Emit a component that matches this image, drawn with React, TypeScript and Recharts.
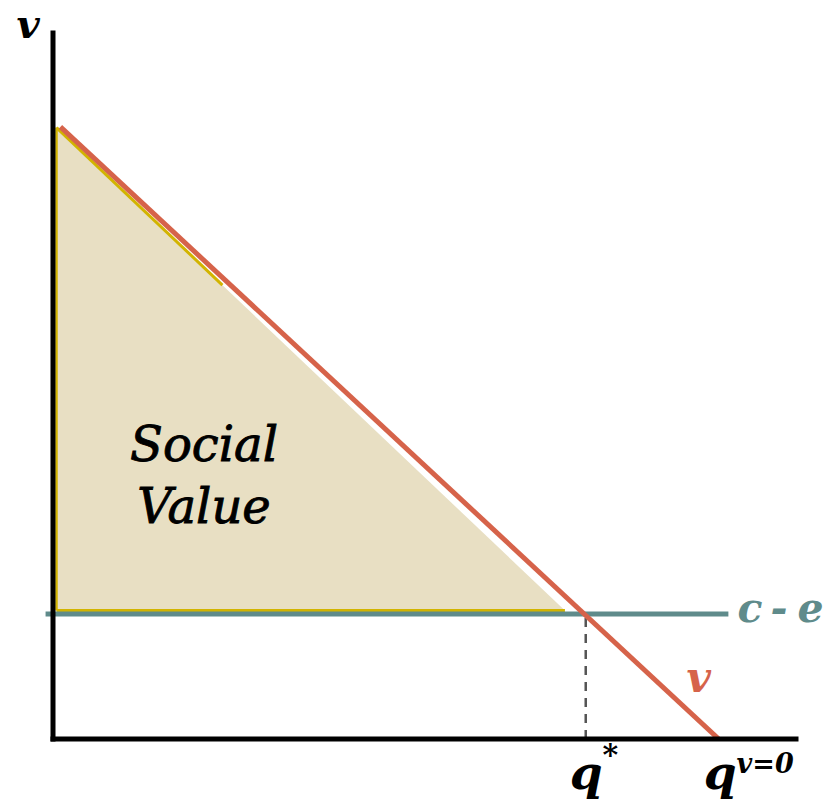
import React from "react";
import {
  ComposedChart,
  Line,
  Area,
  XAxis,
  YAxis,
  ReferenceLine,
  ReferenceDot,
} from "recharts";

// axis ranges (quantity q, value v)
const qDomain = [0, 100];
const vDomain = [0, 100];

// demand / value curve v(q)
const demandQ = [1.0, 89.6];
const demandV = [86.7, 0];

// c - e level and its extent
const costLevel = 17.7;
const costQ = [-1.0, 90.9];

// q* where v = c - e
const qStar = 71.7;
const qZero = 89.6;

// social value triangle
const triQ = [0.47, 68.9];
const triTop = [86.6, 18.2];
const triBase = 18.2;
const triEdgeQ = 22.8; // highlighted part of hypotenuse
const triEdgeV = 64.3;

const demandData = demandQ.map((q, i) => ({ q, v: demandV[i] }));
const triData = triQ.map((q, i) => ({ q, band: [triBase, triTop[i]] }));

const RED = "#d6634a";
const TEAL = "#5f8b8b";
const GOLD = "#d2b400";
const FILL = "#e8dfc3";
const serif = "'DejaVu Serif', serif";

const txt = (
  content: React.ReactNode,
  dx: number,
  dy: number,
  size: number,
  color: string,
  anchor = "start",
  weight = "bold",
  extra: any = {}
) =>
  (props: any) => {
    const vb = props.viewBox || {};
    return (
      <text
        x={vb.x + dx}
        y={vb.y + dy}
        fontFamily={serif}
        fontStyle="italic"
        fontWeight={weight}
        fontSize={size}
        fill={color}
        textAnchor={anchor}
        {...extra}
      >
        {content}
      </text>
    );
  };

// "c - e" with tight spacing, pieces placed one by one
const costLabel = (props: any) => {
  const vb = props.viewBox || {};
  const x0 = vb.x + 9;
  const y0 = vb.y + 8;
  const common = {
    fontFamily: serif,
    fontStyle: "italic",
    fontWeight: "bold",
    fontSize: 41,
    fill: TEAL,
  };
  return (
    <g>
      <text x={x0} y={y0} {...common}>c</text>
      <text x={x0 + 33} y={y0} {...common}>-</text>
      <text x={x0 + 60} y={y0} {...common}>e</text>
    </g>
  );
};

const axisLine = { stroke: "#000", strokeWidth: 5, strokeLinecap: "square" };

export default function App() {
  return (
    <div style={{ position: "absolute", left: 0, top: 0, width: 826, height: 803, background: "#fff" }}>
      <ComposedChart
        width={826}
        height={803}
        margin={{ top: 33, right: 30, left: 52, bottom: 63 }}
        style={{ overflow: "visible" }}
      >
        <XAxis
          type="number"
          dataKey="q"
          domain={qDomain}
          height={1}
          tick={false}
          tickLine={false}
          axisLine={axisLine}
          allowDataOverflow
        />
        <YAxis
          type="number"
          domain={vDomain}
          width={1}
          tick={false}
          tickLine={false}
          axisLine={axisLine}
          allowDataOverflow
        />
        <Area
          data={triData}
          dataKey="band"
          type="linear"
          fill={FILL}
          fillOpacity={1}
          stroke="none"
          isAnimationActive={false}
        />
        <ReferenceLine
          segment={[{ x: triQ[0], y: triTop[0] }, { x: triQ[0], y: triBase }]}
          stroke={GOLD}
          strokeWidth={2.5}
          ifOverflow="visible"
        />
        <ReferenceLine
          segment={[{ x: triQ[0], y: triBase }, { x: triQ[1], y: triBase }]}
          stroke={GOLD}
          strokeWidth={3}
          ifOverflow="visible"
        />
        <ReferenceLine
          segment={[{ x: triQ[0], y: triTop[0] }, { x: triEdgeQ, y: triEdgeV }]}
          stroke={GOLD}
          strokeWidth={3}
          ifOverflow="visible"
        />
        <ReferenceLine
          segment={[{ x: qStar, y: 0 }, { x: qStar, y: costLevel - 0.4 }]}
          stroke="#555"
          strokeWidth={2.5}
          strokeDasharray="9 7"
          ifOverflow="visible"
        />
        <ReferenceLine
          segment={[{ x: costQ[0], y: costLevel }, { x: costQ[1], y: costLevel }]}
          stroke={TEAL}
          strokeWidth={5}
          ifOverflow="visible"
        />
        <Line
          data={demandData}
          dataKey="v"
          type="linear"
          stroke={RED}
          strokeWidth={5}
          dot={false}
          isAnimationActive={false}
        />
        <ReferenceDot
          x={0}
          y={vDomain[1]}
          r={0}
          stroke="none"
          fill="none"
          ifOverflow="visible"
          label={txt("v", -25, 5, 40, "#000", "middle")}
        />
        <ReferenceDot
          x={20.3}
          y={39.4}
          r={0}
          stroke="none"
          fill="none"
          label={txt(
            <>
              <tspan x={204} dy={0}>Social</tspan>
              <tspan x={204} dy={62}>Value</tspan>
            </>,
            0,
            0,
            48,
            "#000",
            "middle",
            "normal",
            { stroke: "#000", strokeWidth: 0.9 }
          )}
        />
        <ReferenceDot
          x={costQ[1]}
          y={costLevel}
          r={0}
          stroke="none"
          fill="none"
          ifOverflow="visible"
          label={costLabel}
        />
        <ReferenceDot
          x={86.9}
          y={6.6}
          r={0}
          stroke="none"
          fill="none"
          label={txt("v", 0, 0, 42, RED, "middle")}
        />
        <ReferenceDot
          x={qStar}
          y={0}
          r={0}
          stroke="none"
          fill="none"
          ifOverflow="visible"
          label={txt(
            <>
              q<tspan fontSize={30} dy={-24}>*</tspan>
            </>,
            -16,
            50,
            47,
            "#000"
          )}
        />
        <ReferenceDot
          x={qZero}
          y={0}
          r={0}
          stroke="none"
          fill="none"
          ifOverflow="visible"
          label={txt(
            <>
              q<tspan fontSize={27} dy={-16}>v=0</tspan>
            </>,
            -15,
            50,
            47,
            "#000"
          )}
        />
      </ComposedChart>
    </div>
  );
}
